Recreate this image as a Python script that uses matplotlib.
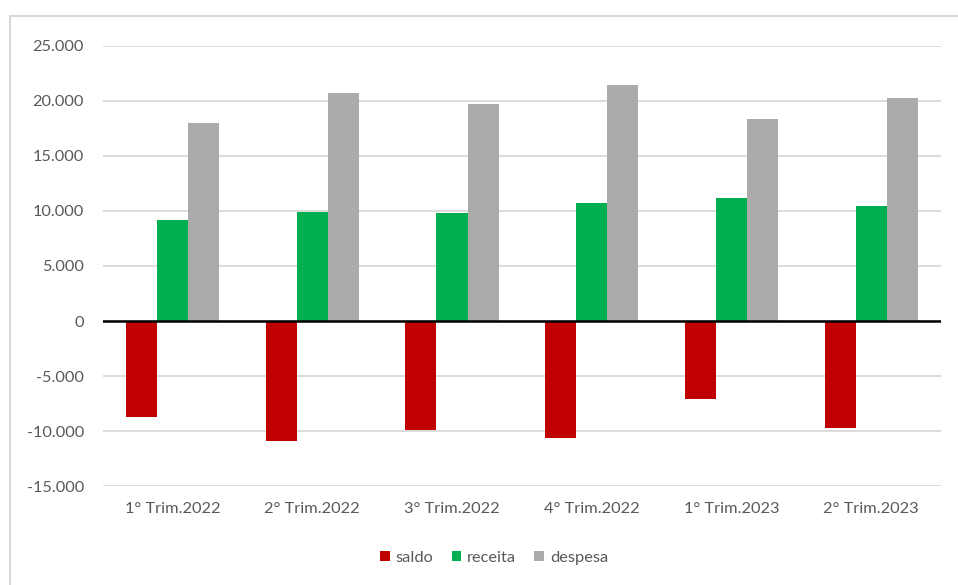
import matplotlib
matplotlib.use('Agg')
import matplotlib.pyplot as plt
from matplotlib.patches import Rectangle
from matplotlib.ticker import FuncFormatter, MultipleLocator
import numpy as np

# Dados trimestrais
trimestres = ['1° Trim.2022', '2° Trim.2022', '3° Trim.2022',
              '4° Trim.2022', '1° Trim.2023', '2° Trim.2023']
saldo = [-8730, -10850, -9900, -10580, -7100, -9750]
receita = [9180, 9900, 9800, 10700, 11200, 10450]
despesa = [17940, 20700, 19650, 21400, 18300, 20250]

plt.rcParams['font.family'] = ['Lato', 'DejaVu Sans']
cor_texto = '#595959'
fs = 11.8

fig = plt.figure(figsize=(9.58, 5.85), dpi=100)
ax = fig.add_axes([0.1072, 0.1687, 0.8751, 0.7535])

x = np.arange(len(trimestres))
w = 0.222
ax.bar(x - w, saldo, w, color='#C00000', label='saldo', zorder=3)
ax.bar(x, receita, w, color='#00B050', label='receita', zorder=3)
ax.bar(x + w, despesa, w, color='#ABABAB', label='despesa', zorder=3)

ax.set_xlim(-0.5, len(trimestres) - 0.5)
ax.set_ylim(-15000, 25000)
ax.yaxis.set_major_locator(MultipleLocator(5000))
ax.yaxis.set_major_formatter(FuncFormatter(lambda v, p: f'{int(v):,}'.replace(',', '.')))
ax.set_xticks(x)
ax.set_xticklabels(trimestres)

ax.grid(axis='y', color='#D9D9D9', linewidth=1.3, zorder=0)
ax.axhline(0, color='black', linewidth=1.8, zorder=4)
for s in ax.spines.values():
    s.set_visible(False)
ax.tick_params(axis='both', length=0, labelsize=fs, colors=cor_texto)
ax.tick_params(axis='y', pad=13.5)
ax.tick_params(axis='x', pad=11.5)

fig.legend(loc='center', bbox_to_anchor=(0.5157, 0.0467), ncol=3, frameon=False,
           fontsize=fs, labelcolor=cor_texto, handlelength=0.6, handleheight=0.6,
           handletextpad=0.35, columnspacing=1.1)

# Borda da área do gráfico
fig.patches.append(Rectangle((10 / 958, -0.1), 2, 1 - 16 / 585 + 0.1,
                             transform=fig.transFigure, fill=False,
                             edgecolor='#D9D9D9', linewidth=1.5))

fig.savefig('out.png', dpi=100)
